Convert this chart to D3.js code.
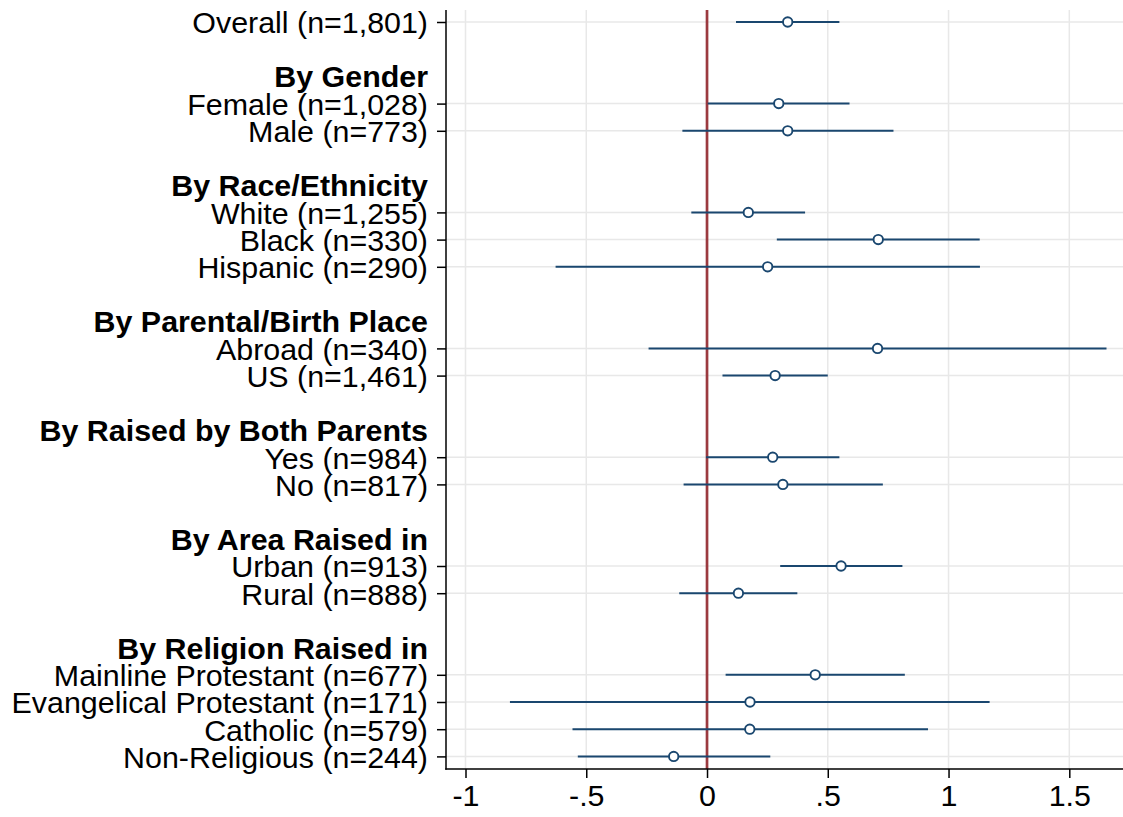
<!DOCTYPE html>
<html>
<head>
<meta charset="utf-8">
<script src="https://cdn.jsdelivr.net/npm/d3@7"></script>
<style>
  html, body { margin: 0; padding: 0; background: #fff; }
  svg { display: block; font-family: "Liberation Sans", Arial, sans-serif; }
</style>
</head>
<body>
<svg id="chart" width="1123" height="817"></svg>
<script>
// Subgroup headings (first group has no heading)
const groups = ["", "By Gender", "By Race/Ethnicity", "By Parental/Birth Place",
  "By Raised by Both Parents", "By Area Raised in", "By Religion Raised in"];

// Estimate rows, in drawing order
const categories = [
  "Overall (n=1,801)",
  "Female (n=1,028)", "Male (n=773)",
  "White (n=1,255)", "Black (n=330)", "Hispanic (n=290)",
  "Abroad (n=340)", "US (n=1,461)",
  "Yes (n=984)", "No (n=817)",
  "Urban (n=913)", "Rural (n=888)",
  "Mainline Protestant (n=677)", "Evangelical Protestant (n=171)",
  "Catholic (n=579)", "Non-Religious (n=244)"
];
const categoryGroup = [0, 1, 1, 2, 2, 2, 3, 3, 4, 4, 5, 5, 6, 6, 6, 6];

// Point estimates and confidence bounds
const estimate = [0.334, 0.297, 0.334, 0.171, 0.709, 0.251, 0.706, 0.282,
  0.272, 0.314, 0.555, 0.130, 0.448, 0.178, 0.177, -0.138];
const lower = [0.120, 0.003, -0.102, -0.065, 0.289, -0.627, -0.242, 0.064,
  -0.004, -0.097, 0.303, -0.115, 0.077, -0.816, -0.557, -0.535];
const upper = [0.548, 0.590, 0.772, 0.406, 1.129, 1.130, 1.654, 0.500,
  0.548, 0.728, 0.809, 0.374, 0.819, 1.170, 0.915, 0.262];

// X-axis ticks
const xTicks = [-1, -0.5, 0, 0.5, 1, 1.5];
const xTickLabels = ["-1", "-.5", "0", ".5", "1", "1.5"];

// Lay out rows: estimate rows, a heading row per group, a blank row between groups
const rows = [];
let prevGroup = -1;
categories.forEach((c, i) => {
  const g = categoryGroup[i];
  if (g !== prevGroup) {
    if (prevGroup !== -1) rows.push({ type: "blank" });
    if (groups[g]) rows.push({ type: "header", label: groups[g] });
    prevGroup = g;
  }
  rows.push({ type: "est", label: c, i });
});
rows.forEach((r, k) => r.pos = k);

const svg = d3.select("#chart");
const W = 1123;
const plotLeft = 446, plotRight = W, plotTop = 10, plotBottom = 769;
const fontSize = 30.4;

const x = d3.scaleLinear().domain([-1, 1.5]).range([465.5, 1069.3]);
const y = d3.scaleLinear().domain([0, rows.length - 1]).range([22, 756.4]);

const gridColor = "#e8e8e8";
const estRows = rows.filter(r => r.type === "est");

// Gridlines
svg.append("g").selectAll("line").data(xTicks).join("line")
  .attr("x1", d => x(d)).attr("x2", d => x(d))
  .attr("y1", plotTop).attr("y2", plotBottom)
  .attr("stroke", gridColor).attr("stroke-width", 1.5);
svg.append("g").selectAll("line").data(estRows).join("line")
  .attr("x1", plotLeft).attr("x2", plotRight)
  .attr("y1", d => y(d.pos)).attr("y2", d => y(d.pos))
  .attr("stroke", gridColor).attr("stroke-width", 1.5);

// Reference line at zero
svg.append("line")
  .attr("x1", x(0)).attr("x2", x(0))
  .attr("y1", plotTop).attr("y2", plotBottom)
  .attr("stroke", "#9b3a3f").attr("stroke-width", 2.7);

// Confidence intervals and point estimates
const blue = "#1a476f";
svg.append("g").selectAll("line").data(estRows).join("line")
  .attr("x1", d => x(lower[d.i])).attr("x2", d => x(upper[d.i]))
  .attr("y1", d => y(d.pos)).attr("y2", d => y(d.pos))
  .attr("stroke", blue).attr("stroke-width", 2);
svg.append("g").selectAll("circle").data(estRows).join("circle")
  .attr("cx", d => x(estimate[d.i])).attr("cy", d => y(d.pos))
  .attr("r", 4.7)
  .attr("fill", "#fff").attr("stroke", blue).attr("stroke-width", 1.9);

// Y axis with estimate-row labels
const yAxis = d3.axisLeft(y)
  .tickValues(estRows.map(r => r.pos))
  .tickFormat(p => rows[p].label)
  .tickSize(9).tickPadding(9);
const gy = svg.append("g").attr("transform", `translate(${plotLeft},0)`).call(yAxis);
gy.select(".domain").remove();
gy.selectAll(".tick line").attr("stroke", "#000").attr("stroke-width", 1.5);
gy.selectAll(".tick text")
  .attr("font-size", fontSize).attr("fill", "#000")
  .attr("font-family", "'Liberation Sans', Arial, sans-serif")
  .attr("dy", "0.36em");

// Group headings
svg.append("g").selectAll("text").data(rows.filter(r => r.type === "header")).join("text")
  .attr("x", plotLeft - 18).attr("y", d => y(d.pos)).attr("dy", "0.36em")
  .attr("text-anchor", "end").attr("font-size", fontSize).attr("font-weight", "bold")
  .text(d => d.label);

// X axis
const xAxis = d3.axisBottom(x)
  .tickValues(xTicks)
  .tickFormat((d, k) => xTickLabels[k])
  .tickSize(9).tickPadding(6);
const gx = svg.append("g").attr("transform", `translate(0,${plotBottom})`).call(xAxis);
gx.select(".domain").remove();
gx.selectAll(".tick line").attr("stroke", "#000").attr("stroke-width", 1.5);
gx.selectAll(".tick text")
  .attr("font-size", fontSize).attr("fill", "#000")
  .attr("font-family", "'Liberation Sans', Arial, sans-serif");

// Axis lines spanning the plot region
svg.append("line")
  .attr("x1", plotLeft).attr("x2", plotLeft)
  .attr("y1", plotTop).attr("y2", plotBottom + 0.75)
  .attr("stroke", "#000").attr("stroke-width", 1.5);
svg.append("line")
  .attr("x1", plotLeft - 0.75).attr("x2", plotRight)
  .attr("y1", plotBottom).attr("y2", plotBottom)
  .attr("stroke", "#000").attr("stroke-width", 1.5);
</script>
</body>
</html>
